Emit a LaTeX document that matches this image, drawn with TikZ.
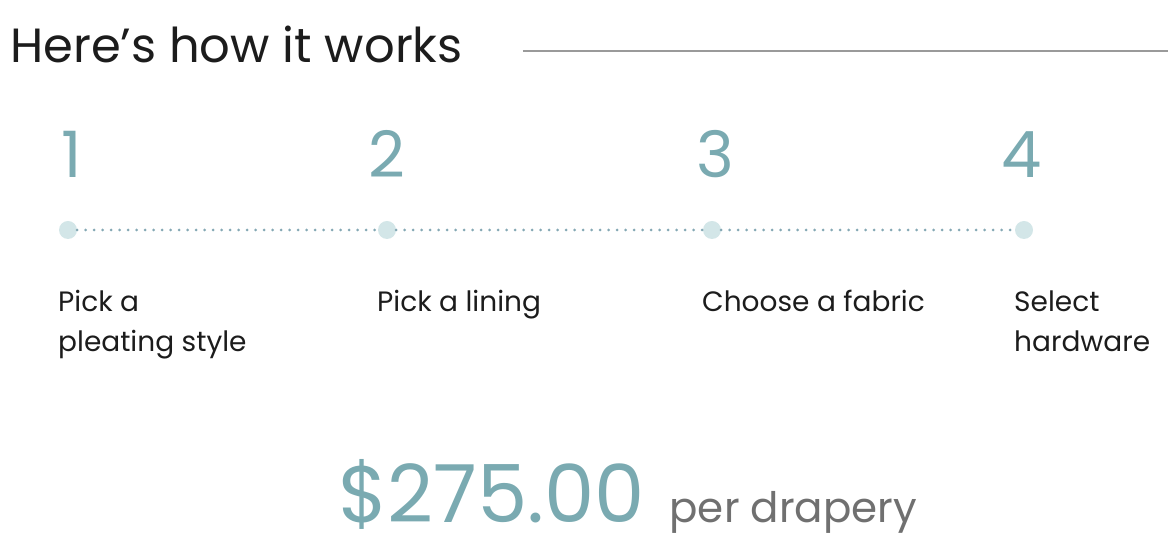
\documentclass[tikz,border=0pt]{standalone}
\usepackage{fontspec}
\setmainfont{Poppins}
\usetikzlibrary{positioning}
\definecolor{tealnum}{HTML}{7AAAB1}
\definecolor{dotfill}{HTML}{D3E6E8}
\definecolor{linkcol}{HTML}{84A8B4}
\definecolor{ink}{HTML}{1C1C1C}
\definecolor{rulecol}{HTML}{9A9A9A}
\definecolor{pergray}{HTML}{707070}

\begin{document}
\begin{tikzpicture}[
    x=1pt, y=1pt,
    dot/.style ={
        circle,
        fill=dotfill,
        minimum size=18pt,
        inner sep=0pt
    },
    num/.style ={
        font=\fontsize{64}{64}\selectfont,
        text=tealnum,
        anchor=base west,
        inner sep=0pt
    },
    lbl/.style ={
        font=\fontsize{28}{40}\selectfont,
        text=ink,
        anchor=base west,
        inner sep=0pt
    },
    link/.style ={
        draw=linkcol,
        line width=3pt,
        line cap=round,
        dash pattern=on 0pt off 8.5pt
    }
    ]
    \useasboundingbox (0,0) rectangle (1175,540);

    \node[anchor=base west, inner sep=0pt, text=ink, font=\fontsize{48}{48}\selectfont] (title) at (10,477) {Here’s how it works};
    \coordinate (ruleend) at (1168,489);
    \draw[rulecol, line width=1.3pt] (title.east |- ruleend) ++(60,0) coordinate (rulestart) -- (ruleend);

    \foreach \i/\x/\dx/\ta/\tb in {1/68/-7/{Pick a}/{pleating style}, 2/387/-19/{Pick a lining}/{}, 3/712/-16/{Choose a fabric}/{}, 4/1024/-23/{Select}/{hardware}} {
        \node[dot] (d\i) at (\x,310) {};
        \node[num] (n\i) at (\x+\dx,362) {\i};
        \node[lbl] (l\i) at (\x-10,228) {\vtop{\hbox{\ta}\hbox{\tb}}};
    }

    \foreach \src/ \dst in {1/2, 2/3, 3/4}
        \path[link] (d\src) edge (d\dst);

    \node[anchor=base west, inner sep=0pt, text=tealnum, font=\fontsize{80}{80}\selectfont] (price) at (338,17) {\$275.00};
    \node[inner sep=0pt, text=pergray, font=\fontsize{42}{42}\selectfont] (per) [right=24pt of price.base east, anchor=base west] {per drapery};
\end{tikzpicture}
\end{document}
